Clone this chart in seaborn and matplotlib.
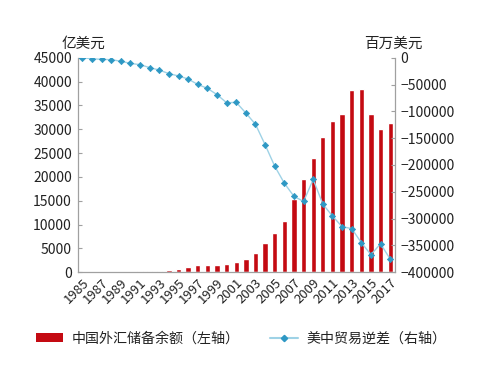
import numpy as np
import pandas as pd
import matplotlib
matplotlib.use("Agg")
import matplotlib.pyplot as plt
from matplotlib.patches import Patch
from matplotlib.lines import Line2D
import seaborn as sns

# ---------------------------------------------------------------------------
# data
# ---------------------------------------------------------------------------
years = [str(y) for y in range(1985, 2018)]
reserves = [26, 21, 29, 34, 56, 111, 217, 194, 212, 516, 736, 1050, 1399,
            1450, 1547, 1656, 2122, 2864, 4033, 6099, 8189, 10663, 15282,
            19460, 23992, 28473, 31811, 33116, 38213, 38430, 33304, 30105,
            31399]  # 亿美元
deficit = [-6, -1665, -2796, -3489, -6235, -10431, -12691, -18309, -22777,
           -29505, -33790, -39520, -49695, -56927, -68677, -83833, -83096,
           -103065, -124068, -162254, -202278, -234101, -258506, -268040,
           -226877, -273042, -295250, -315102, -318684, -344818, -367328,
           -346997, -375576]  # 百万美元
left_ticks = list(range(0, 45001, 5000))
right_ticks = list(range(-400000, 1, 50000))

df = pd.DataFrame({"year": years, "reserves": reserves, "deficit": deficit})

sns.set_style("white")
plt.rcParams["font.family"] = ["Noto Sans CJK SC", "DejaVu Sans"]

bar_c = "#C40A12"
line_c = "#9ED2E6"
mark_c = "#2E98C4"
axis_c = "#A0A0A0"
txt_c = "#222222"

fig = plt.figure(figsize=(5.0, 3.78), dpi=100)
ax = fig.add_axes([0.155, 0.280, 0.635, 0.567])

sns.barplot(data=df, x="year", y="reserves", color=bar_c, width=0.55,
            saturation=1, ax=ax)
ax.set_ylim(0, 45000)
ax.set_yticks(left_ticks)
ax.set_xlim(-0.5, len(years) - 0.5)

ax2 = ax.twinx()
sns.pointplot(data=df, x="year", y="deficit", color=mark_c, markers="D",
              linestyles="-", errorbar=None, ax=ax2)
for ln in ax2.lines:
    ln.set_color(line_c)
    ln.set_linewidth(1.0)
    ln.set_markerfacecolor(mark_c)
    ln.set_markeredgecolor(mark_c)
    ln.set_markeredgewidth(0.5)
    ln.set_markersize(3.2)
ax2.set_ylim(-400000, 0)
ax2.set_yticks(right_ticks)
ax2.set_xlim(-0.5, len(years) - 0.5)

# x ticks: labels every other year, tick marks at category boundaries
pos = np.arange(len(years))
ax.set_xticks(pos[::2])
ax.set_xticklabels(years[::2], rotation=45, ha="right",
                   rotation_mode="anchor", fontsize=9.5, color=txt_c)
ax.set_xticks(np.arange(len(years) + 1) - 0.5, minor=True)
ax.tick_params(axis="x", which="major", length=0, pad=3)
ax.tick_params(axis="x", which="minor", direction="in", length=4,
               color=axis_c, width=0.8)
ax.tick_params(axis="y", direction="in", length=3, color=axis_c,
               labelsize=10, labelcolor=txt_c, pad=4)
ax2.tick_params(axis="y", direction="in", length=3, color=axis_c,
                labelsize=10, labelcolor=txt_c, pad=4)
ax.set_xlabel("")
ax.set_ylabel("")
ax2.set_xlabel("")
ax2.set_ylabel("")

for a in (ax, ax2):
    a.spines["top"].set_visible(False)
    for s in ("left", "bottom", "right"):
        a.spines[s].set_color(axis_c)
        a.spines[s].set_linewidth(0.9)
ax.spines["right"].set_visible(False)
ax2.spines["left"].set_visible(False)
ax2.spines["bottom"].set_visible(False)

fig.text(0.166, 0.884, "亿美元", ha="center", va="center", fontsize=10.5,
         color=txt_c)
fig.text(0.786, 0.884, "百万美元", ha="center", va="center", fontsize=10.5,
         color=txt_c)

handles = [Patch(facecolor=bar_c, edgecolor="none"),
           Line2D([0], [0], color=line_c, marker="D", markersize=3.2,
                  markerfacecolor=mark_c, markeredgecolor=mark_c)]
labels = ["中国外汇储备余额（左轴）", "美中贸易逆差（右轴）"]
fig.legend(handles, labels, loc="center", bbox_to_anchor=(0.482, 0.105),
           ncol=2, frameon=False, fontsize=10.1, handlelength=1.95,
           handleheight=0.6, columnspacing=2.2, handletextpad=0.6,
           labelcolor=txt_c)

fig.savefig("out.png", dpi=100)
